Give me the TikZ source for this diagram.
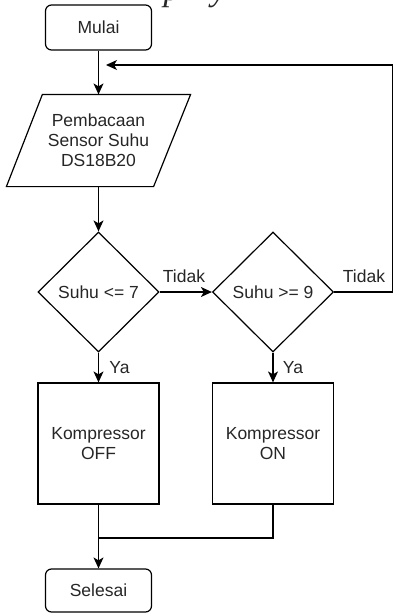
\documentclass[tikz,border=0pt]{standalone}
\usepackage{fontspec}
\setmainfont{Liberation Sans}
\newfontfamily\capfont{Liberation Serif}
\usetikzlibrary{shapes.geometric,arrows.meta,calc}
\definecolor{txt}{HTML}{262626}
\newcommand{\fsz}{\fontsize{17.5}{20}\selectfont}
\begin{document}
\begin{tikzpicture}[x=1pt,y=-1pt,line width=1.2pt,
  every node/.style={text=txt},
  term/.style={draw=black,rounded corners=6pt,minimum width=106pt,minimum height=45pt,inner sep=0,font=\fsz},
  procbox/.style={draw=black,minimum width=121pt,minimum height=121pt,inner sep=0,align=center,font=\fsz},
  decision/.style={draw=black,diamond,aspect=1,minimum width=121pt,minimum height=120pt,inner sep=0,font=\fsz},
  lbl/.style={inner sep=0,font=\fsz},
  arr/.style={-{Stealth[length=11pt,width=10pt,inset=3pt]}}]
\useasboundingbox (0,0) rectangle (392,613);
% cropped caption fragment
\node[anchor=base,inner sep=0,font=\capfont\itshape\fontsize{34}{34}\selectfont] (frag1) at (172,1) {p};
\node[anchor=base,inner sep=0,font=\capfont\itshape\fontsize{34}{34}\selectfont] (frag2) at (219,1) {y};
% nodes
\node[term] (mulai) at (98.5,27.5) {Mulai};
\node[minimum width=183pt,minimum height=91pt,inner sep=0,align=center,font=\fsz] (para) at (98.5,140.5) {Pembacaan\\Sensor Suhu\\DS18B20};
\draw ($(para.north west)+(36,0)$) -- (para.north east) -- ($(para.south east)-(37,0)$) -- (para.south west) -- cycle;
\node[decision] (d1) at (98.5,292) {Suhu <= 7};
\node[decision] (d2) at (273,292) {Suhu >= 9};
\node[procbox] (b1) at (98.5,443.5) {Kompressor\\OFF};
\node[procbox] (b2) at (273,443.5) {Kompressor\\ON};
\node[term,minimum height=43pt] (sel) at (98.5,590.5) {Selesai};
% coordinates
\coordinate (loopT) at (392.2,65);
\coordinate (loopEnd) at (106,65);
\coordinate (mj) at (98.5,538);
% connectors
\draw[arr] (mulai.south) -- (para.north);
\draw[arr] (para.south) -- (d1.north);
\draw[arr] (d1.east) -- (d2.west);
\draw[arr] (d2.east) -| (loopT) -- (loopEnd);
\draw[arr] (d1.south) -- (b1.north);
\draw[arr] (d2.south) -- (b2.north);
\draw (b2.south) |- (mj);
\draw[arr] (b1.south) -- (sel.north);
% labels
\node[lbl] (t1) at (184,276) {Tidak};
\node[lbl] (t2) at (364,276) {Tidak};
\node[lbl] (y1) at (119.5,367.5) {Ya};
\node[lbl] (y2) at (293,367.5) {Ya};
\end{tikzpicture}
\end{document}
